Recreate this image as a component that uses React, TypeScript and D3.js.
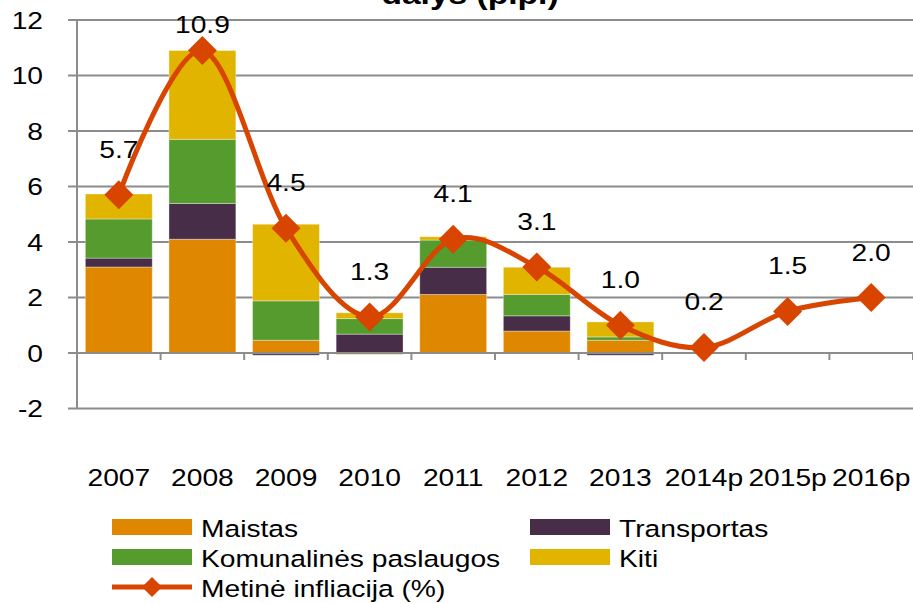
import React from "react";
import * as d3 from "d3";

const years = ["2007", "2008", "2009", "2010", "2011", "2012", "2013", "2014p", "2015p", "2016p"];
const maistas = [3.1, 4.1, 0.46, -0.05, 2.11, 0.79, 0.46, 0, 0, 0];
const transportas = [0.32, 1.29, -0.08, 0.68, 0.98, 0.55, -0.08, 0, 0, 0];
const komunalines = [1.41, 2.31, 1.42, 0.56, 0.98, 0.77, 0.12, 0, 0, 0];
const kiti = [0.9, 3.2, 2.76, 0.21, 0.12, 0.98, 0.54, 0, 0, 0];
const infliacija = [5.7, 10.9, 4.5, 1.3, 4.1, 3.1, 1.0, 0.2, 1.5, 2.0];
const yTicks = [-2, 0, 2, 4, 6, 8, 10, 12];

const seriesNames = ["Maistas", "Transportas", "Komunalinės paslaugos", "Kiti"];
const seriesKeys = ["maistas", "transportas", "komunalines", "kiti"];
const colors: Record<string, string> = {
  maistas: "#E08700",
  transportas: "#472D47",
  komunalines: "#559B2D",
  kiti: "#E1B400",
};
const lineColor = "#D84500";
const gridColor = "#8C8C8C";
const FONT = "'Liberation Sans', Arial, sans-serif";
const SX = 1.2;

const W = 913;
const H = 603;
const plotLeft = 77;
const plotRight = 913;
const plotTop = 20;
const plotBottom = 408.5;

function T({ x, y, children, anchor = "middle", size = 23.5, weight = "normal" }: any) {
  return (
    <text
      transform={`translate(${x},${y}) scale(${SX},1)`}
      textAnchor={anchor}
      fontFamily={FONT}
      fontSize={size}
      fontWeight={weight}
      fill="#000"
    >
      {children}
    </text>
  );
}

export default function App() {
  const x = d3.scaleBand<string>().domain(years).range([plotLeft, plotLeft + 83.6 * 10]).paddingInner(0.2).paddingOuter(0.1);
  const step = x.step();
  const y = d3.scaleLinear().domain([-2, 12]).range([plotBottom, plotTop]);

  const table = years.map((yr, i) => ({
    year: yr,
    maistas: maistas[i],
    transportas: transportas[i],
    komunalines: komunalines[i],
    kiti: kiti[i],
  }));
  const stack = d3.stack<any>().keys(seriesKeys).offset(d3.stackOffsetDiverging);
  const layers = stack(table);

  const cx = (yr: string) => (x(yr) as number) + x.bandwidth() / 2;
  const line = d3
    .line<number>()
    .x((_, i) => cx(years[i]))
    .y((d) => y(d))
    .curve(d3.curveCardinal.tension(0));

  const diamond = (s: number, w = s) => `M0,${-s / 2}L${w / 2},0L0,${s / 2}L${-w / 2},0Z`;

  const legendRows = [527, 557, 587];
  const legendCols = [112, 530];

  return (
    <svg width={W} height={H} style={{ position: "absolute", left: 0, top: 0, background: "#fff" }}>
      {/* title (clipped) */}
      <T x={470} y={4} size={28} weight="bold">dalys (p.p.)</T>

      {/* gridlines */}
      {yTicks.map((t) => (
        <line key={t} x1={plotLeft - 9} x2={plotRight} y1={y(t)} y2={y(t)} stroke={gridColor} strokeWidth={2} />
      ))}
      {/* y labels */}
      {yTicks.map((t) => (
        <T key={"l" + t} x={43} y={y(t) + 8.5} anchor="end">
          {t}
        </T>
      ))}

      {/* bars */}
      {layers.map((layer) =>
        layer.map((d, i) => {
          const h = Math.abs(y(d[0]) - y(d[1]));
          if (h < 0.01) return null;
          return (
            <rect
              key={layer.key + i}
              x={x(years[i])}
              width={x.bandwidth()}
              y={Math.min(y(d[0]), y(d[1]))}
              height={h}
              fill={colors[layer.key]}
              stroke="rgba(255,255,255,0.35)"
              strokeWidth={1}
            />
          );
        })
      )}

      {/* zero axis */}
      <line x1={plotLeft - 9} x2={plotRight} y1={y(0)} y2={y(0)} stroke={gridColor} strokeWidth={2} />
      {d3.range(0, 11).map((k) => (
        <line key={"t" + k} x1={plotLeft + step * k} x2={plotLeft + step * k} y1={y(0)} y2={y(0) + 7} stroke={gridColor} strokeWidth={2} />
      ))}
      {/* vertical axis */}
      <line x1={plotLeft} x2={plotLeft} y1={plotTop} y2={plotBottom} stroke={gridColor} strokeWidth={2} />

      {/* line */}
      <path d={line(infliacija) || ""} fill="none" stroke={lineColor} strokeWidth={5} strokeLinejoin="round" />
      {infliacija.map((v, i) => (
        <path key={"m" + i} d={diamond(29)} transform={`translate(${cx(years[i])},${y(v)})`} fill={lineColor} />
      ))}
      {infliacija.map((v, i) => (
        <T key={"dl" + i} x={cx(years[i])} y={Math.max(y(v) - 37, plotTop + 13)}>
          {v.toFixed(1)}
        </T>
      ))}

      {/* x labels */}
      {years.map((yr) => (
        <T key={"x" + yr} x={cx(yr)} y={486}>
          {yr}
        </T>
      ))}

      {/* legend */}
      {seriesKeys.map((k, i) => {
        const col = legendCols[i % 2];
        const row = legendRows[Math.floor(i / 2)];
        return (
          <g key={"lg" + k}>
            <rect x={col} y={row - 8} width={80} height={16} fill={colors[k]} />
            <T x={col + 89} y={row + 10} anchor="start">
              {seriesNames[i]}
            </T>
          </g>
        );
      })}
      <g>
        <line x1={112} x2={192} y1={legendRows[2]} y2={legendRows[2]} stroke={lineColor} strokeWidth={5} />
        <path d={diamond(20, 20)} transform={`translate(152,${legendRows[2]})`} fill={lineColor} />
        <T x={201} y={legendRows[2] + 10} anchor="start">
          Metinė infliacija (%)
        </T>
      </g>
    </svg>
  );
}
